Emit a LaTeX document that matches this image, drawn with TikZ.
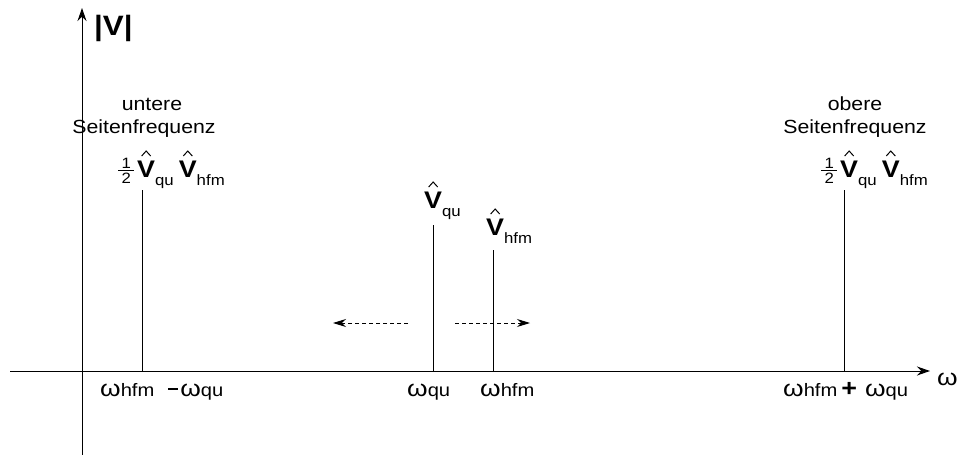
\documentclass[tikz,border=0pt]{standalone}
\usepackage{fontspec}
\usepackage{graphicx}
\setmainfont{Liberation Sans}[FakeStretch=1.12]
\usetikzlibrary{arrows.meta}
\newcommand{\fsz}[1]{\fontsize{#1}{#1}\selectfont}
\newcommand{\hatmark}{\smash{\tikz[baseline=0pt,x=1pt,y=1pt]\draw[line width=1pt,line join=miter,line cap=butt] (-4.5pt,21pt)--(0pt,26pt)--(4.5pt,21pt);}}
\newcommand{\hatV}{\ooalign{{\fsz{24}\textbf{V}}\cr\hidewidth\hatmark\hidewidth\cr}}
\newcommand{\Vs}[1]{\hatV\raisebox{-8pt}{\fsz{15}#1}}
\newcommand{\Om}[1]{\scalebox{1.12}[1.1]{\fsz{21}ω}{\fsz{18}#1}}
\newcommand{\half}{\raisebox{-6pt}{\vbox{\hbox to 16pt{\hss\fsz{15}1\hss}\kern1pt\hrule height 1pt\kern2pt\hbox to 16pt{\hss\fsz{15}2\hss}}}}
\tikzset{
  axis/.style={line width=1pt,-{Stealth[length=13pt,width=9pt]}},
  spec/.style={line width=1pt},
  shift arrow/.style={line width=0.9pt,dash pattern=on 4pt off 3pt,-{Stealth[length=13pt,width=8pt]}},
  lbl/.style={inner sep=0pt,font=\fsz{19}},
}
\begin{document}
\begin{tikzpicture}[x=1pt,y=-1pt]
\useasboundingbox (0,0) rectangle (961,455);
% axes
\coordinate (xs) at (10,371);
\coordinate (xe) at (930,371);
\coordinate (ys) at (82,455);
\coordinate (ye) at (82,8);
\draw[axis] (xs) -- (xe);
\draw[axis] (ys) -- (ye);
\node[lbl,anchor=base west] (vlab) at (94,35) {\fsz{28}\textbf{|V|}};
\node[lbl,anchor=base west] (wlab) at (937,385) {\scalebox{1.12}[1.1]{\fsz{21}ω}};
% spectral lines
\coordinate (l1t) at (142,190); \coordinate (l1b) at (142,371);
\coordinate (l2t) at (433,225); \coordinate (l2b) at (433,371);
\coordinate (l3t) at (493,250); \coordinate (l3b) at (493,371);
\coordinate (l4t) at (844,190); \coordinate (l4b) at (844,371);
\draw[spec] (l1t) -- (l1b);
\draw[spec] (l2t) -- (l2b);
\draw[spec] (l3t) -- (l3b);
\draw[spec] (l4t) -- (l4b);
% dashed arrows
\coordinate (a1s) at (408,323); \coordinate (a1e) at (333,323);
\coordinate (a2s) at (455,323); \coordinate (a2e) at (530,323);
\draw[shift arrow] (a1s) -- (a1e);
\draw[shift arrow] (a2s) -- (a2e);
% texts above
\node[lbl,anchor=base] (unt) at (152,110) {untere};
\node[lbl,anchor=base] (usf) at (144,133) {Seitenfrequenz};
\node[lbl,anchor=base] (obe) at (855,110) {obere};
\node[lbl,anchor=base] (osf) at (855,133) {Seitenfrequenz};
\node[lbl,anchor=base west] (ulab) at (118,177) {\half\hspace{3pt}\Vs{qu}\hspace{5pt}\Vs{hfm}};
\node[lbl,anchor=base west] (olab) at (821,177) {\half\hspace{3pt}\Vs{qu}\hspace{5pt}\Vs{hfm}};
\node[lbl,anchor=base west] (vqu) at (424,208) {\Vs{qu}};
\node[lbl,anchor=base west] (vhfm) at (486,235) {\Vs{hfm}};
% texts below
\node[lbl,anchor=base west] (f1) at (100,396) {\Om{hfm}\hspace{14pt}\rule[6pt]{10pt}{2.5pt}\hspace{2pt}\Om{qu}};
\node[lbl,anchor=base west] (f2) at (407,396) {\Om{qu}};
\node[lbl,anchor=base west] (f3) at (480,396) {\Om{hfm}};
\node[lbl,anchor=base west] (f4) at (783,396) {\Om{hfm}\hspace{4pt}{\fsz{24}\textbf{+}}\hspace{8pt}\Om{qu}};
\end{tikzpicture}
\end{document}
